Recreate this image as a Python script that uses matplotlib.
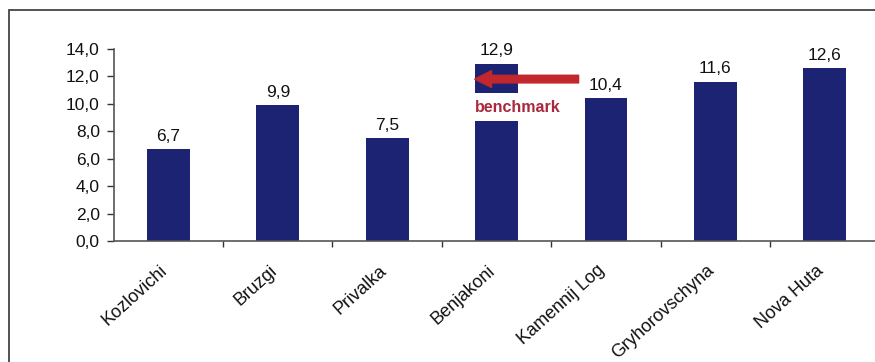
import numpy as np
import matplotlib.pyplot as plt
from matplotlib.patches import Rectangle
from matplotlib.ticker import FuncFormatter, FixedLocator
from matplotlib.transforms import ScaledTranslation

plt.rcParams["font.family"] = ["Liberation Sans", "DejaVu Sans"]

villages = ["Kozlovichi", "Bruzgi", "Privalka", "Benjakoni",
            "Kamennij Log", "Gryhorovschyna", "Nova Huta"]
values = [6.7, 9.9, 7.5, 12.9, 10.4, 11.6, 12.6]
benchmark_village = "Benjakoni"
benchmark_level = 11.8

BAR = "#1b2372"
RED = "#c1272d"

fig = plt.figure(figsize=(8.75, 3.62), dpi=100)
ax = fig.add_axes([0.130, 0.334, 0.875, 0.531])

x = np.arange(len(villages))
ax.bar(x, values, width=0.39, color=BAR, zorder=2)


def comma(v, _pos=None):
    return f"{v:.1f}".replace(".", ",")


for xi, v in zip(x, values):
    ax.annotate(comma(v), (xi, v), xytext=(0, 4), textcoords="offset points",
                ha="center", va="bottom", fontsize=12.5, color="#111111")

ax.set_ylim(0, 14)
ax.set_xlim(-0.5, len(villages) - 0.5)
ax.set_yticks(np.arange(0, 14.1, 2))
ax.yaxis.set_major_formatter(FuncFormatter(comma))
ax.tick_params(axis="y", labelsize=12.5, length=5, width=1, color="#333333",
               pad=5, labelcolor="#111111")

ax.set_xticks(x)
ax.set_xticklabels(villages, rotation=42, ha="right", rotation_mode="anchor",
                   fontsize=13, color="#111111")
ax.tick_params(axis="x", length=0, pad=15)
# nudge the slanted names a little left so they end under the bar
shift = ScaledTranslation(-0.09, 0, fig.dpi_scale_trans)
for lbl in ax.get_xticklabels():
    lbl.set_transform(lbl.get_transform() + shift)
ax.xaxis.set_minor_locator(FixedLocator(x[:-1] + 0.5))
ax.tick_params(axis="x", which="minor", length=4, width=1, color="#333333")

for side in ("top", "right"):
    ax.spines[side].set_visible(False)
for side in ("left", "bottom"):
    ax.spines[side].set_color("#555555")
    ax.spines[side].set_linewidth(1.2)

# benchmark callout on the Benjakoni bar
bi = villages.index(benchmark_village)
ax.add_patch(Rectangle((bi - 0.3, 8.75), 0.6, 2.05, facecolor="white",
                       edgecolor="none", zorder=3))
ax.text(bi - 0.2, 9.7, "benchmark", color="#a8283c", fontsize=11.5,
        fontweight="bold", ha="left", va="center", zorder=4)
ax.annotate("", xy=(bi - 0.2, benchmark_level),
            xytext=(bi + 0.75, benchmark_level),
            arrowprops=dict(arrowstyle="simple,head_length=1.1,head_width=1.1,tail_width=0.5",
                            color=RED, shrinkA=0, shrinkB=0, mutation_scale=11),
            zorder=5)

# outer frame (right and bottom edges run off the canvas)
fig.add_artist(Rectangle((0.010, -0.2), 1.2, 1.172,
                         transform=fig.transFigure, fill=False,
                         edgecolor="#444444", linewidth=1.3))

fig.savefig("out.png", dpi=100)
